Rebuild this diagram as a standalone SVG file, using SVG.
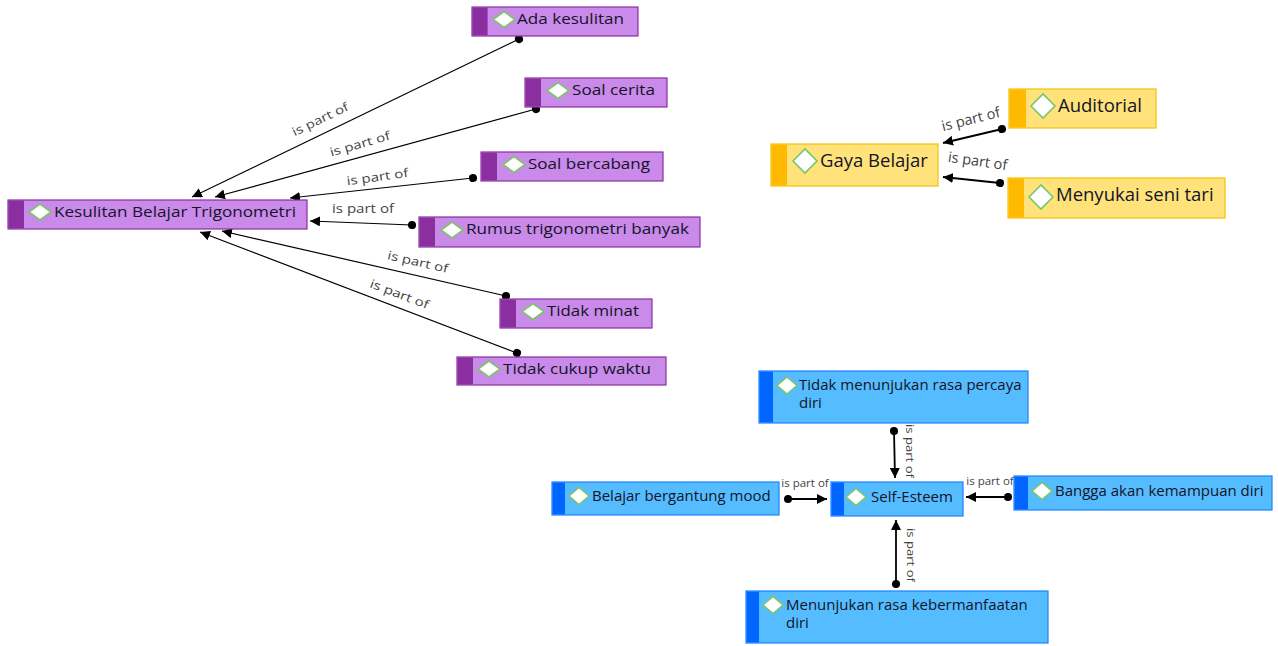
<svg xmlns="http://www.w3.org/2000/svg" width="1278" height="646" viewBox="0 0 1278 646">
<defs>
<marker id="arr" viewBox="0 0 10 10" refX="10" refY="5" markerWidth="10" markerHeight="10" markerUnits="userSpaceOnUse" orient="auto">
<path d="M0,0 L10,5 L0,10 Z" fill="#000"/>
</marker>
<marker id="dot" viewBox="0 0 10 10" refX="5" refY="5" markerWidth="9" markerHeight="9" markerUnits="userSpaceOnUse" orient="auto">
<circle cx="5" cy="5" r="4.5" fill="#000"/>
</marker>
<style>
.pb{fill:#c98aea;stroke:#8b2fa0;stroke-width:1.2}
.ps{fill:#8b2fa0}
.yb{fill:#ffe37a;stroke:#f5c000;stroke-width:1.2}
.ys{fill:#ffb900}
.bb{fill:#55bdff;stroke:#1a80ff;stroke-width:1.2}
.bs{fill:#0066ff}
.dm{fill:#fff;stroke:#7cc46a;stroke-width:1.6}
.t{font-family:"Open Sans","Noto Sans",sans-serif;fill:#141428}
.tp{font-size:14px}
.ty{font-size:18.5px}
.tb{font-size:15px}
.lb{font-family:"Open Sans","Noto Sans",sans-serif;font-size:11.5px;fill:#444;text-anchor:middle}
.lp{font-size:12px}
.ly{font-size:14.5px}
.c{stroke:#000;fill:none;marker-start:url(#dot);marker-end:url(#arr)}
.c1{stroke-width:1.2}
.c2{stroke-width:1.8}
</style>
</defs>

<g id="connectors">
<path class="c c1" d="M519,39 L192,197"/>
<path class="c c1" d="M536,109 L215,197"/>
<path class="c c1" d="M473,178 L290,198"/>
<path class="c c1" d="M412,225 L310,221"/>
<path class="c c1" d="M506,296 L222,231"/>
<path class="c c1" d="M517,353 L200,232"/>
<path class="c c2" d="M1002,129 L943,143"/>
<path class="c c2" d="M1000,183 L943,177"/>
<path class="c c2" d="M894,431 L895,478"/>
<path class="c c2" d="M788,499 L827,499"/>
<path class="c c2" d="M1008,497 L966,497"/>
<path class="c c2" d="M896,584 L896,520"/>
<text class="lb lp" transform="translate(322,123) rotate(-25.8)" textLength="61" lengthAdjust="spacingAndGlyphs">is part of</text>
<text class="lb lp" transform="translate(361,148) rotate(-16)" textLength="62" lengthAdjust="spacingAndGlyphs">is part of</text>
<text class="lb lp" transform="translate(378,181) rotate(-8)" textLength="62" lengthAdjust="spacingAndGlyphs">is part of</text>
<text class="lb lp" transform="translate(363,213)" textLength="62" lengthAdjust="spacingAndGlyphs">is part of</text>
<text class="lb lp" transform="translate(417,266) rotate(12.9)" textLength="62" lengthAdjust="spacingAndGlyphs">is part of</text>
<text class="lb lp" transform="translate(398,298) rotate(20.9)" textLength="62" lengthAdjust="spacingAndGlyphs">is part of</text>
<text class="lb ly" transform="translate(972,124) rotate(-14)">is part of</text>
<text class="lb ly" transform="translate(977,166) rotate(8)">is part of</text>
<text class="lb" transform="translate(906,451) rotate(90)" textLength="54" lengthAdjust="spacingAndGlyphs">is part of</text>
<text class="lb" transform="translate(907,555) rotate(90)" textLength="54" lengthAdjust="spacingAndGlyphs">is part of</text>
<text class="lb" transform="translate(805,487)">is part of</text>
<text class="lb" transform="translate(990,485)">is part of</text>
</g>

<g id="n-kesulitan">
<rect class="pb" x="8" y="200" width="299" height="29"/>
<rect class="ps" x="8.6" y="200.6" width="15.4" height="27.8"/>
<path class="dm" d="M29,212 L40,204 L51,212 L40,220 Z"/>
<text class="t tp" x="54" y="217" textLength="242" lengthAdjust="spacingAndGlyphs">Kesulitan Belajar Trigonometri</text>
</g>
<g id="n-ada">
<rect class="pb" x="472" y="7" width="166" height="29"/>
<rect class="ps" x="472.6" y="7.6" width="15" height="27.8"/>
<path class="dm" d="M493,19.5 L504,11.5 L515,19.5 L504,27.5 Z"/>
<text class="t tp" x="517" y="24" textLength="107" lengthAdjust="spacingAndGlyphs">Ada kesulitan</text>
</g>
<g id="n-soalcerita">
<rect class="pb" x="525" y="78" width="142" height="29"/>
<rect class="ps" x="525.6" y="78.6" width="15.4" height="27.8"/>
<path class="dm" d="M547,90.5 L558,82.5 L569,90.5 L558,98.5 Z"/>
<text class="t tp" x="572" y="95" textLength="83" lengthAdjust="spacingAndGlyphs">Soal cerita</text>
</g>
<g id="n-soalbercabang">
<rect class="pb" x="481" y="152" width="182" height="29"/>
<rect class="ps" x="481.6" y="152.6" width="15.4" height="27.8"/>
<path class="dm" d="M503,164.5 L514,156.5 L525,164.5 L514,172.5 Z"/>
<text class="t tp" x="528" y="169" textLength="122" lengthAdjust="spacingAndGlyphs">Soal bercabang</text>
</g>
<g id="n-rumus">
<rect class="pb" x="419" y="217" width="281" height="30"/>
<rect class="ps" x="419.6" y="217.6" width="15.4" height="28.8"/>
<path class="dm" d="M441,230 L452,222 L463,230 L452,238 Z"/>
<text class="t tp" x="466" y="234" textLength="223" lengthAdjust="spacingAndGlyphs">Rumus trigonometri banyak</text>
</g>
<g id="n-tidakminat">
<rect class="pb" x="500" y="299" width="152" height="29"/>
<rect class="ps" x="500.6" y="299.6" width="15.4" height="27.8"/>
<path class="dm" d="M522,311.5 L533,303.5 L544,311.5 L533,319.5 Z"/>
<text class="t tp" x="547" y="316" textLength="92" lengthAdjust="spacingAndGlyphs">Tidak minat</text>
</g>
<g id="n-tidakcukup">
<rect class="pb" x="457" y="357" width="209" height="28"/>
<rect class="ps" x="457.6" y="357.6" width="15.4" height="26.8"/>
<path class="dm" d="M478,369 L489,361 L500,369 L489,377 Z"/>
<text class="t tp" x="503" y="374" textLength="148" lengthAdjust="spacingAndGlyphs">Tidak cukup waktu</text>
</g>

<g id="n-gaya">
<rect class="yb" x="771" y="144" width="167" height="42"/>
<rect class="ys" x="771.6" y="144.6" width="15.4" height="40.8"/>
<path class="dm" d="M793,161 L805,149 L817,161 L805,173 Z"/>
<text class="t ty" x="820" y="167">Gaya Belajar</text>
</g>
<g id="n-auditorial">
<rect class="yb" x="1009" y="89" width="147" height="39"/>
<rect class="ys" x="1009.6" y="89.6" width="16.4" height="37.8"/>
<path class="dm" d="M1031,106 L1043,94 L1055,106 L1043,118 Z"/>
<text class="t ty" x="1058" y="112">Auditorial</text>
</g>
<g id="n-menyukai">
<rect class="yb" x="1008" y="178" width="217" height="40"/>
<rect class="ys" x="1008.6" y="178.6" width="15.4" height="38.8"/>
<path class="dm" d="M1029,197 L1041,185 L1053,197 L1041,209 Z"/>
<text class="t ty" x="1056" y="201">Menyukai seni tari</text>
</g>

<g id="n-tidakmenunjukan">
<rect class="bb" x="759" y="371" width="269" height="52"/>
<rect class="bs" x="759.6" y="371.6" width="13.4" height="50.8"/>
<path class="dm" d="M777,385.5 L787,377 L797,385.5 L787,394 Z"/>
<text class="t tb" x="799" y="390">Tidak menunjukan rasa percaya</text>
<text class="t tb" x="799" y="408">diri</text>
</g>
<g id="n-belajar">
<rect class="bb" x="552" y="482" width="227" height="33"/>
<rect class="bs" x="552.6" y="482.6" width="12.4" height="31.8"/>
<path class="dm" d="M569,496 L579,487.5 L589,496 L579,504.5 Z"/>
<text class="t tb" x="592" y="501">Belajar bergantung mood</text>
</g>
<g id="n-selfesteem">
<rect class="bb" x="831" y="482" width="132" height="34"/>
<rect class="bs" x="831.6" y="482.6" width="12.4" height="32.8"/>
<path class="dm" d="M846,497 L856,488.5 L866,497 L856,505.5 Z"/>
<text class="t tb" x="871" y="502">Self-Esteem</text>
</g>
<g id="n-bangga">
<rect class="bb" x="1014" y="476" width="258" height="34"/>
<rect class="bs" x="1014.6" y="476.6" width="13.4" height="32.8"/>
<path class="dm" d="M1032,491 L1042,482.5 L1052,491 L1042,499.5 Z"/>
<text class="t tb" x="1055" y="496">Bangga akan kemampuan diri</text>
</g>
<g id="n-menunjukan">
<rect class="bb" x="746" y="591" width="302" height="52"/>
<rect class="bs" x="746.6" y="591.6" width="12.4" height="50.8"/>
<path class="dm" d="M763,605 L773,596.5 L783,605 L773,613.5 Z"/>
<text class="t tb" x="786" y="610">Menunjukan rasa kebermanfaatan</text>
<text class="t tb" x="786" y="628">diri</text>
</g>
</svg>
